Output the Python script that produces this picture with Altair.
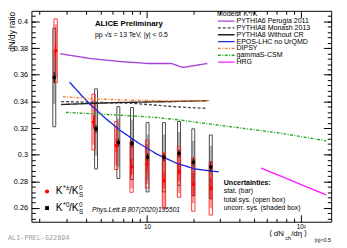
import altair as alt
import pandas as pd

FONT = "Liberation Sans"

# ---------------- data ----------------
# K*+-/K0S (red)
ch_mult = [2.55, 4.50, 6.32, 7.95, 10.02, 12.9, 16.17, 20.02, 26.02]
ch_ratio = [0.378, 0.3245, 0.3069, 0.2908, 0.2930, 0.2805, 0.2871, 0.2776, 0.2747]
ch_stat = [0.006, 0.005, 0.005, 0.006, 0.006, 0.006, 0.007, 0.009, 0.008]
ch_sys_tot = [0.024, 0.021, 0.018, 0.019, 0.018, 0.021, 0.019, 0.020, 0.020]
ch_sys_unc = [0.020, 0.017, 0.015, 0.016, 0.015, 0.020, 0.016, 0.014, 0.015]

# K*0/K0S (black)
n_mult = [2.50, 4.67, 6.52, 8.0, 10.1, 12.9, 16.17, 20.02, 26.02]
n_ratio = [0.358, 0.3194, 0.3091, 0.3084, 0.2981, 0.2981, 0.3010, 0.2944, 0.2908]
n_stat = [0.004, 0.003, 0.003, 0.003, 0.003, 0.003, 0.003, 0.003, 0.004]
n_sys_tot = [0.037, 0.030, 0.027, 0.027, 0.026, 0.026, 0.024, 0.025, 0.024]
n_sys_unc = [0.020, 0.020, 0.018, 0.018, 0.017, 0.017, 0.016, 0.016, 0.016]

# models
perugia_x = [2.73, 4.35, 6.64, 10.1, 14.4, 17.1, 20.6, 24.7]
perugia_y = [0.3758, 0.3721, 0.3700, 0.3685, 0.3685, 0.3655, 0.3670, 0.3685]
monash_x = [2.77, 5.0, 7.64, 10.1, 14.4, 20.6, 24.7]
monash_y = [0.3399, 0.3392, 0.3388, 0.3377, 0.3362, 0.3352, 0.3348]
nocr_x = [2.77, 6.64, 14.4, 24.7]
nocr_y = [0.3377, 0.3392, 0.3399, 0.3406]
epos_x = [3.14, 3.77, 4.35, 5.37, 6.64, 8.81, 11.68, 15.49, 20.55, 29.26]
epos_y = [0.3545, 0.3443, 0.3370, 0.3274, 0.3186, 0.3088, 0.3003, 0.2937, 0.2893, 0.2871]
dipsy_x = [2.84, 4.35, 7.64, 15.49, 25.4]
dipsy_y = [0.3436, 0.3420, 0.3410, 0.3403, 0.3406]
gamma_x = [2.97, 6.64, 11.68, 15.94, 36.17, 73.3, 128.8, 146.6]
gamma_y = [0.3318, 0.3297, 0.3279, 0.3262, 0.3208, 0.3162, 0.3115, 0.3104]
hrg_x = [55.2, 146.6]
hrg_y = [0.2900, 0.2698]

model_names = ["PYTHIA6 Perugia 2011", "PYTHIA8 Monash 2013", "PYTHIA8 Without CR",
               "EPOS-LHC no UrQMD", "DIPSY", "gammaS-CSM", "HRG"]

# ticks
y_major = [0.26, 0.28, 0.30, 0.32, 0.34, 0.36, 0.38, 0.40]
y_minor = [round(0.252 + 0.004 * i, 3) for i in range(39)]
x_major = [10, 100]
x_minor = [2, 3, 4, 5, 6, 7, 8, 9, 20, 30, 40, 50, 60, 70, 80, 90]

# ---------------- styles ----------------
model_styles = [
    dict(color="#a546d6", dash=[1, 0]),
    dict(color="#444444", dash=[3, 2]),
    dict(color="#222222", dash=[1, 0]),
    dict(color="#1f2de0", dash=[1, 0]),
    dict(color="#f57d28", dash=[3, 1.5, 1, 1.5]),
    dict(color="#2aa52a", dash=[3, 1.5, 1, 1.5]),
    dict(color="#ff1aff", dash=[1, 0]),
]
model_data = [(perugia_x, perugia_y), (monash_x, monash_y), (nocr_x, nocr_y),
              (epos_x, epos_y), (dipsy_x, dipsy_y), (gamma_x, gamma_y), (hrg_x, hrg_y)]

XS = alt.Scale(type="log", domain=[1.91, 146.6], nice=False)
YS = alt.Scale(domain=[0.2497, 0.408], nice=False, zero=False)


def X(field="x", axis=None):
    return alt.X(f"{field}:Q", scale=XS, axis=axis)


def Y(field="v", axis=None):
    return alt.Y(f"{field}:Q", scale=YS, axis=axis)


def frame(mult, ratio, stat, tot, unc):
    return pd.DataFrame({
        "x": mult, "v": ratio,
        "slo": [r - s for r, s in zip(ratio, stat)], "shi": [r + s for r, s in zip(ratio, stat)],
        "tlo": [r - s for r, s in zip(ratio, tot)], "thi": [r + s for r, s in zip(ratio, tot)],
        "ulo": [r - s for r, s in zip(ratio, unc)], "uhi": [r + s for r, s in zip(ratio, unc)],
    })


red = frame(ch_mult, ch_ratio, ch_stat, ch_sys_tot, ch_sys_unc)
blk = frame(n_mult, n_ratio, n_stat, n_sys_tot, n_sys_unc)
one = pd.DataFrame({"a": [0]})

layers = []

# ---------------- axes (ticks inside the frame) ----------------
common = dict(grid=False, domain=False, title=None, tickColor="black", tickWidth=1)


def ax(orient, values, size, labels=False, **kw):
    return alt.Axis(orient=orient, values=values, tickSize=size, offset=-size,
                    labels=labels, **common, **kw)


axis_sets = [
    (ax("bottom", x_major, 7, labels=True, labelExpr="datum.value == 100 ? '10²' : '10'",
        labelFont=FONT, labelFontSize=6.5, labelPadding=2, labelFlush=False,
        labelOverlap=False, labelColor="black"),
     ax("left", y_major, 8, labels=True, format=".2~f", labelFont=FONT, labelFontSize=7.5,
        labelPadding=4, labelColor="black", labelOverlap=False)),
    (ax("bottom", x_minor, 3.5), ax("left", y_minor, 4)),
    (ax("top", x_major, 7), ax("right", y_major, 8)),
    (ax("top", x_minor, 3.5), ax("right", y_minor, 4)),
]
for xa, ya in axis_sets:
    layers.append(alt.Chart(red).mark_point(opacity=0).encode(x=X(axis=xa), y=Y(axis=ya)))

# ---------------- data boxes ----------------
layers.append(alt.Chart(blk).mark_bar(width=2.6, color="#7a7a7a", opacity=0.55)
              .encode(x=X(), y=Y("ulo"), y2="uhi"))
layers.append(alt.Chart(red).mark_bar(width=2.6, color="#ff0000", opacity=0.4)
              .encode(x=X(), y=Y("ulo"), y2="uhi"))
layers.append(alt.Chart(blk).mark_bar(width=3, fill="white", fillOpacity=0, stroke="#333333",
                                      strokeWidth=0.9)
              .encode(x=X(), y=Y("tlo"), y2="thi"))
layers.append(alt.Chart(red).mark_bar(width=3.4, fill="white", fillOpacity=0, stroke="#ff2020",
                                      strokeWidth=0.9)
              .encode(x=X(), y=Y("tlo"), y2="thi"))

# ---------------- model curves ----------------
for (mx, my), st in zip(model_data, model_styles):
    df = pd.DataFrame({"x": mx, "v": my})
    layers.append(alt.Chart(df).mark_line(color=st["color"], strokeWidth=1.4,
                                          strokeDash=st["dash"], clip=True)
                  .encode(x=X(), y=Y()))

# ---------------- stat bars and points ----------------
layers.append(alt.Chart(blk).mark_rule(color="black", strokeWidth=1)
              .encode(x=X(), y=Y("slo"), y2="shi"))
layers.append(alt.Chart(red).mark_rule(color="#ff0000", strokeWidth=1)
              .encode(x=X(), y=Y("slo"), y2="shi"))
layers.append(alt.Chart(blk).mark_point(shape="square", filled=True, color="black", size=11,
                                        opacity=1)
              .encode(x=X(), y=Y()))
layers.append(alt.Chart(red).mark_point(shape="circle", filled=True, color="#ff0000", size=12,
                                        opacity=1)
              .encode(x=X(), y=Y()))


# ---------------- texts ----------------
def label(text, x, y, size, **kw):
    opts = dict(align="left", baseline="middle", font=FONT, fontSize=size, color="black")
    opts.update(kw)
    return alt.Chart(one).mark_text(text=text, **opts).encode(x=alt.value(x), y=alt.value(y))


layers.append(label("dN/dy ratio", -20, 1, 8.5, angle=270, align="right"))
layers.append(label("ALICE Preliminary", 65, 14, 8, fontWeight="bold"))
layers.append(label("pp √s = 13 TeV, |y| < 0.5", 65, 24.5, 7))

# model legend
layers.append(label("Models: K*/K", 190, 3.5, 7.2))
for i, (name, st) in enumerate(zip(model_names, model_styles)):
    ry = 10.5 + 7 * i
    layers.append(alt.Chart(one).mark_rule(color=st["color"], strokeWidth=1.4, strokeDash=st["dash"])
                  .encode(x=alt.value(191), x2=alt.value(208), y=alt.value(ry)))
    layers.append(label(name, 210, ry, 7.2))

# uncertainties legend
layers.append(label("Uncertainties:", 197, 176.5, 7.2, fontWeight="bold"))
layers.append(label("stat. (bar)", 197, 185, 7))
layers.append(label("total sys. (open box)", 197, 193.5, 7))
layers.append(label("uncorr. sys. (shaded box)", 197, 202, 7))

# particle legend
layers.append(alt.Chart(one).mark_point(shape="circle", filled=True, color="#ff0000", size=18, opacity=1)
              .encode(x=alt.value(16), y=alt.value(185)))
layers.append(alt.Chart(one).mark_point(shape="square", filled=True, color="black", size=16, opacity=1)
              .encode(x=alt.value(16), y=alt.value(202)))
for ry, sup in [(185, "*±"), (202, "*0")]:
    layers.append(label("K", 25, ry, 10.5))
    layers.append(label(sup, 32.3, ry - 3.5, 7))
    layers.append(label("/K", 38.5, ry, 10.5))
    layers.append(label("0", 48.6, ry - 3.5, 6.5))
    layers.append(label("S", 48.6, ry + 4, 6.5))
layers.append(label("Phys.Lett.B 807(2020)135501", 62, 204, 6.8, fontStyle="italic"))

# x-axis title
layers.append(label("⟨ dN", 243, 229, 8))
layers.append(label("ch", 260, 232.5, 5.5))
layers.append(label("/dη ⟩", 266, 229, 8))
layers.append(label("|η|<0.5", 290, 235, 5.5))

layers.append(label("ALI-PREL-522894", -24, 233, 7, font="Liberation Mono", color="#9a9a9a"))

chart = (
    alt.layer(*layers)
    .resolve_axis(x="independent", y="independent")
    .properties(width=307, height=216,
                autosize=alt.AutoSizeParams(type="none"),
                padding={"left": 24, "top": 0, "right": 8, "bottom": 24})
    .configure_view(stroke="black", strokeWidth=1)
)

chart.save("out.html", embed_options={"renderer": "svg", "actions": False})
